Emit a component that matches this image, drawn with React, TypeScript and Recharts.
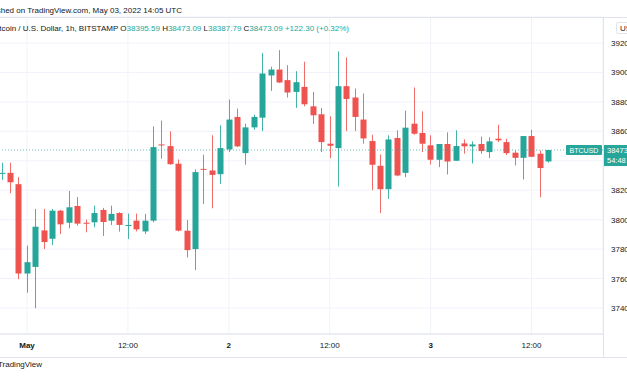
import React from 'react';
import { ComposedChart, Bar, XAxis, YAxis, CartesianGrid, ReferenceLine } from 'recharts';

// BTC/USD hourly candles, Apr 30 21:00 -> May 3 14:00 UTC
const opens = [
  38311, 38318, 38241, 37634, 37679, 37927, 37870, 38061, 37979, 38093, 37979, 37982,
  38066, 37993, 38045, 37959, 37993, 37920, 37993, 38511, 38500, 38380, 37925, 37800,
  38345, 38334, 38309, 38477, 38698, 38452, 38627, 38693, 38980, 39020, 38948, 38868,
  38902, 38770, 38716, 38516, 38486, 38907, 38830, 38680, 38534, 38366, 38207, 38555,
  38318, 38652, 38589, 38505, 38407, 38514, 38400, 38518, 38498, 38514, 38459, 38550,
  38527, 38455, 38420, 38568, 38448, 38395.59,
];
const highs = [
  38386, 38386, 38289, 37823, 38073, 38073, 38073, 38066, 38195, 38154, 38000, 38095,
  38080, 38095, 38050, 38041, 38041, 38039, 38634, 38673, 38600, 38409, 37998, 38341,
  38441, 38573, 38641, 38816, 38755, 38652, 38714, 39132, 39039, 39152, 39050, 39009,
  39073, 38868, 38759, 38702, 39143, 39102, 38891, 38857, 38577, 38443, 38573, 38607,
  38741, 38898, 38736, 38573, 38514, 38593, 38607, 38545, 38532, 38564, 38559, 38645,
  38550, 38470, 38568, 38611, 38470, 38473.09,
];
const lows = [
  38270, 38179, 37595, 37504, 37398, 37800, 37827, 37902, 37941, 37959, 37914, 37948,
  37889, 37964, 37918, 37868, 37920, 37902, 37982, 38414, 38373, 37920, 37743, 37657,
  38107, 38077, 38243, 38459, 38493, 38373, 38611, 38602, 38875, 38930, 38830, 38759,
  38770, 38650, 38459, 38418, 38225, 38602, 38602, 38516, 38200, 38045, 38141, 38295,
  38289, 38577, 38459, 38375, 38357, 38307, 38400, 38448, 38382, 38448, 38418, 38527,
  38439, 38368, 38273, 38425, 38152, 38387.79,
];
const closes = [
  38318, 38254, 37634, 37711, 37952, 37848, 38061, 37968, 38084, 37973, 37975, 38045,
  37984, 38039, 37964, 37964, 37934, 37993, 38493, 38505, 38377, 37925, 37793, 38323,
  38339, 38304, 38486, 38680, 38498, 38627, 38698, 38993, 39020, 38932, 38864, 38934,
  38784, 38709, 38527, 38502, 38907, 38820, 38698, 38552, 38373, 38207, 38545, 38300,
  38625, 38584, 38516, 38407, 38514, 38395, 38500, 38498, 38511, 38466, 38532, 38539,
  38452, 38420, 38568, 38427, 38350.79, 38473.09,
];

const emptySlots = 6; // blank space right of the last candle
const tickIndex = [3, 15, 27, 39, 51, 63];
const tickText = ['May', '12:00', '2', '12:00', '3', '12:00'];
const boldTicks = ['May', '2', '3'];
const priceTicks = [37400, 37600, 37800, 38000, 38200, 38400, 38600, 38800, 39000, 39200];
const priceDomain = [37223, 39377];

const UP = '#26a69a';
const DOWN = '#ef5350';
const TEXT = '#131722';
const GRID = '#f0f3fa';
const BORDER = '#e0e3eb';
const FONT = '"Liberation Sans", Arial, sans-serif';

const last = opens.length - 1;
const lastClose = closes[last];
const change = lastClose - closes[last - 1];
const changePct = (change / closes[last - 1]) * 100;

const data = Array.from({ length: opens.length + emptySlots }, (_, i) =>
  i < opens.length
    ? { key: 'h' + i, open: opens[i], high: highs[i], low: lows[i], close: closes[i], range: [lows[i], highs[i]] }
    : { key: 'h' + i }
);

function Candle(props: any) {
  const { x, y, width, height, payload } = props;
  if (!payload || payload.open == null) return null;
  const { open, close, high, low } = payload;
  const top = Math.min(y, y + height);
  const h = Math.abs(height);
  const py = (v: number) => top + ((high - v) / (high - low)) * h;
  const color = close >= open ? UP : DOWN;
  const cx = Math.round(x + width / 2) + 0.5;
  const bodyTop = py(Math.max(open, close));
  const bodyH = Math.max(1, py(Math.min(open, close)) - bodyTop);
  return (
    <g>
      <line x1={cx} x2={cx} y1={top} y2={top + h} stroke={color} strokeOpacity={0.85} />
      <rect x={cx - 3} y={bodyTop} width={6} height={bodyH} fill={color} />
    </g>
  );
}

function TimeTick(props: any) {
  const { x, y, payload } = props;
  const idx = tickIndex.indexOf(Number(String(payload.value).slice(1)));
  const label = tickText[idx] ?? '';
  return (
    <text x={x} y={y + 6} textAnchor="middle" fontSize={8} fill={TEXT} fontFamily={FONT}
      fontWeight={boldTicks.includes(label) ? 'bold' : 'normal'}>
      {label}
    </text>
  );
}

// price labels under the last-price tag are hidden, like in the original
function PriceTick(props: any) {
  const { x, y, payload } = props;
  const v = Number(payload.value);
  if (v > lastClose - 110 && v < lastClose + 35) return null;
  return (
    <text x={x} y={y + 3} fontSize={8} fill={TEXT} fontFamily={FONT}>{v}</text>
  );
}

function PriceTag(props: any) {
  const vb = props.viewBox;
  if (!vb) return null;
  const right = vb.x + vb.width;
  const yy = vb.y;
  return (
    <g fontFamily={FONT}>
      <rect x={right - 37} y={yy - 5} width={36} height={10} fill={UP} rx={1} />
      <text x={right - 19} y={yy + 2.7} textAnchor="middle" fill="#fff" fontSize={7}>BTCUSD</text>
      <rect x={right} y={yy - 5} width={50} height={21} fill={UP} />
      <text x={right + 4} y={yy + 2.7} fill="#fff" fontSize={7.5}>{lastClose.toFixed(2)}</text>
      <text x={right + 4} y={yy + 12.5} fill="#fff" fontSize={7.5}>54:48</text>
    </g>
  );
}

export default function App() {
  return (
    <div style={{ position: 'absolute', left: 0, top: 0, width: 627, height: 376, overflow: 'hidden', background: '#fff', fontFamily: FONT }}>
      <div style={{ position: 'absolute', left: -20, top: 0 }}>
        <ComposedChart width={680} height={376} data={data} margin={{ top: 17, right: 0, bottom: 19, left: 17.6 }}>
          <CartesianGrid stroke={GRID} />
          <XAxis
            dataKey="key"
            ticks={tickIndex.map((i) => 'h' + i)}
            interval={0}
            tickLine={false}
            axisLine={{ stroke: BORDER }}
            height={23}
            tick={<TimeTick />}
          />
          <YAxis
            orientation="right"
            domain={priceDomain}
            ticks={priceTicks}
            allowDataOverflow
            axisLine={false}
            tickLine={false}
            width={57}
            tick={<PriceTick />}
          />
          <ReferenceLine y={lastClose} stroke={UP} strokeOpacity={0.7} strokeDasharray="1 2" label={<PriceTag />} />
          <Bar dataKey="range" barSize={6} shape={<Candle />} isAnimationActive={false} />
        </ComposedChart>
      </div>
      <svg width={627} height={376} style={{ position: 'absolute', left: 0, top: 0, pointerEvents: 'none' }} fontFamily={FONT}>
        <text x={182} y={13} textAnchor="end" fontSize={8} fill={TEXT}>
          Published on TradingView.com, May 03, 2022 14:05 UTC
        </text>
        <text x={349} y={31} textAnchor="end" fontSize={8} fill={TEXT}>
          <tspan>{'Bitcoin / U.S. Dollar, 1h, BITSTAMP  O'}</tspan>
          <tspan fill={UP}>{opens[last].toFixed(2)}</tspan>
          <tspan>{' H'}</tspan>
          <tspan fill={UP}>{highs[last].toFixed(2)}</tspan>
          <tspan>{' L'}</tspan>
          <tspan fill={UP}>{lows[last].toFixed(2)}</tspan>
          <tspan>{' C'}</tspan>
          <tspan fill={UP}>{lastClose.toFixed(2)}</tspan>
          <tspan fill={UP}>{` +${change.toFixed(2)} (+${changePct.toFixed(2)}%)`}</tspan>
        </text>
        <line x1={0} x2={627} y1={17.5} y2={17.5} stroke={BORDER} />
        <line x1={0} x2={627} y1={357.5} y2={357.5} stroke={BORDER} />
        <line x1={603.5} x2={603.5} y1={17} y2={357} stroke={BORDER} />
        <rect x={616.5} y={22.5} width={30} height={11} rx={2} fill="#fff" stroke={BORDER} />
        <text x={620} y={31} fontSize={8} fill={TEXT}>USD</text>
        <text x={42} y={367} textAnchor="end" fontSize={8} fill={TEXT}>TradingView</text>
      </svg>
    </div>
  );
}
